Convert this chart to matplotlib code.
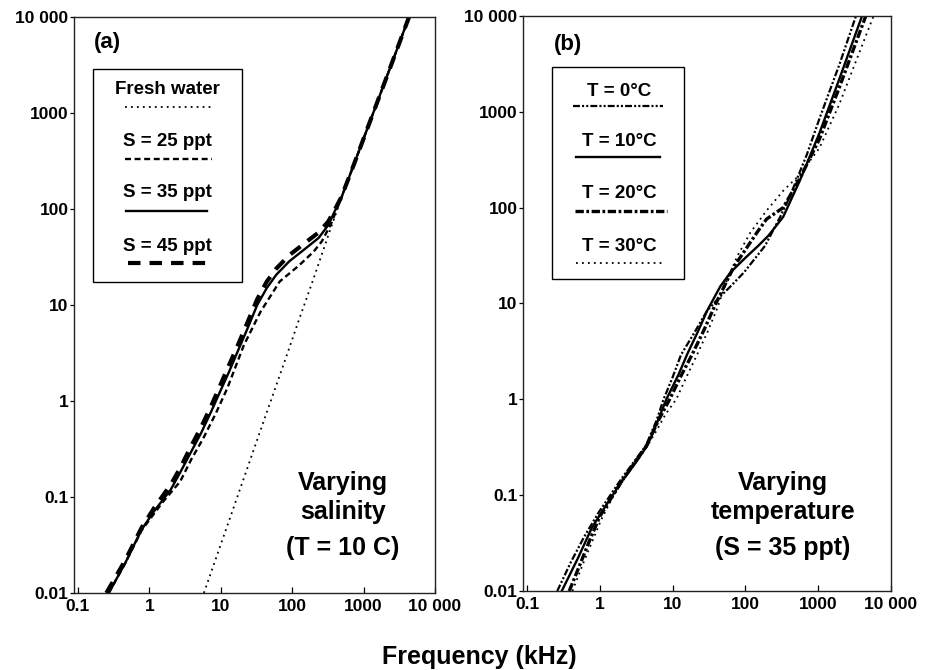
import matplotlib
matplotlib.use('Agg')
import matplotlib.pyplot as plt
from matplotlib.lines import Line2D
from matplotlib.patches import Rectangle

plt.rcParams['font.family'] = ['Liberation Sans', 'DejaVu Sans']
plt.rcParams['font.weight'] = 'bold'
plt.rcParams['lines.scale_dashes'] = False

# ---- panel (a): varying salinity, T = 10 C  (frequency kHz, absorption dB/km)
fresh_f = [5.8, 10, 20, 40, 80, 126, 200, 320, 490]
fresh_a = [0.01, 0.032, 0.141, 0.62, 2.7, 7.2, 19, 53, 132]

s25_f = [0.27, 0.46, 0.78, 1.18, 1.53, 2.7, 3.9, 5.6, 8.5, 12.3, 21, 36, 67, 126, 200, 260, 350, 490]
s25_a = [0.01, 0.0205, 0.045, 0.068, 0.088, 0.145, 0.25, 0.40, 0.74, 1.35, 3.8, 8.5, 17.6, 26, 36, 46, 70, 132]

s35_f = [0.27, 0.46, 0.78, 1.18, 2.0, 2.7, 3.7, 5.35, 7.3, 10, 13, 17.3, 23.7, 32.4, 44, 60, 91, 155, 235, 320, 400, 490]
s35_a = [0.01, 0.0206, 0.046, 0.072, 0.12, 0.18, 0.28, 0.47, 0.77, 1.3, 2.0, 3.3, 5.7, 10, 15, 20.7, 28.5, 39, 50, 68, 97, 132]

s45_f = [0.25, 0.46, 0.78, 1.18, 2.0, 2.7, 3.7, 5.35, 7.3, 10, 13, 17.3, 23.7, 32.4, 44, 60, 91, 155, 235, 320, 400, 490]
s45_a = [0.01, 0.022, 0.048, 0.078, 0.135, 0.2, 0.32, 0.54, 0.88, 1.5, 2.35, 3.8, 6.6, 11.5, 17.5, 24, 33, 45, 57, 74, 100, 134]

# shared high-frequency part (pure-water dominated)
hf_f = [700, 1000, 2000, 4330]
hf_a = [267, 541, 2140, 10000]

# ---- panel (b): varying temperature, S = 35 ppt
t0_f = [0.26, 0.4, 0.6, 0.95, 2.0, 4.3, 6.0, 7.5, 10, 13, 20, 30, 46, 62, 95, 186, 300, 406, 700, 1040, 1950, 3300]
t0_a = [0.01, 0.02, 0.036, 0.065, 0.15, 0.33, 0.6, 1.0, 1.7, 2.9, 5.0, 8.5, 12, 15, 21, 40, 80, 130, 360, 850, 3100, 10000]

t10_f = [0.3, 0.5, 0.78, 1.0, 2.0, 3.0, 4.5, 6.0, 8.2, 12, 16, 22, 30, 45, 62, 100, 150, 207, 330, 556, 1040, 1950, 4000]
t10_a = [0.01, 0.022, 0.046, 0.062, 0.14, 0.21, 0.33, 0.55, 1.0, 1.8, 3.0, 5.0, 8.5, 15, 21, 30, 40, 51, 80, 190, 600, 2200, 10000]

t20_f = [0.38, 0.55, 0.75, 1.0, 2.0, 4.3, 6.5, 9.1, 13, 18.8, 27, 38, 69, 144, 195, 330, 556, 1040, 1950, 4500]
t20_a = [0.01, 0.02, 0.036, 0.06, 0.14, 0.32, 0.62, 1.0, 1.75, 3.0, 5.3, 9.5, 24, 55, 76, 100, 200, 520, 1800, 10000]

t30_f = [0.42, 0.6, 0.8, 1.05, 1.5, 2.0, 3.0, 4.3, 6.0, 8.0, 11.2, 16, 22, 30, 40, 55, 77, 117, 195, 330, 556, 1040, 1950, 3000, 5760]
t30_a = [0.01, 0.02, 0.034, 0.056, 0.095, 0.135, 0.21, 0.31, 0.47, 0.7, 1.0, 1.8, 3.0, 5.0, 8.5, 17, 31, 55, 93, 150, 220, 420, 1200, 2800, 10000]

y_ticks = [0.01, 0.1, 1, 10, 100, 1000, 10000]
y_labels = ['0.01', '0.1', '1', '10', '100', '1000', '10 000']
x_ticks = [0.1, 1, 10, 100, 1000, 10000]
x_labels = ['0.1', '1', '10', '100', '1000', '10 000']

# line styles
st_fresh = dict(color='k', lw=1.3, ls=(0, (1.3, 3.0)))
st_s25 = dict(color='k', lw=1.7, ls=(0, (4.3, 2.6)))
st_s35 = dict(color='k', lw=1.7, ls='-')
st_s45 = dict(color='k', lw=3.0, ls=(0, (9, 6.5)))
st_t0 = dict(color='k', lw=1.6, ls=(0, (5, 1.5, 1.5, 1.5, 1.5, 1.5)))
st_t10 = dict(color='k', lw=1.7, ls='-')
st_t20 = dict(color='k', lw=2.4, ls=(0, (6, 1.8, 2, 1.8)))
st_t30 = dict(color='k', lw=1.3, ls=(0, (1.3, 3.0)))

fig = plt.figure(figsize=(9.38, 6.70), dpi=100)
ax_a = fig.add_axes([74 / 938, 1 - 593 / 670, 361 / 938, 576 / 670])
ax_b = fig.add_axes([523 / 938, 1 - 591 / 670, 368 / 938, 575 / 670])


def setup(ax):
    ax.set_xscale('log')
    ax.set_yscale('log')
    ax.set_xlim(0.088, 10000)
    ax.set_ylim(0.01, 10000)
    ax.set_xticks(x_ticks)
    ax.set_xticklabels(x_labels)
    ax.set_yticks(y_ticks)
    ax.set_yticklabels(y_labels)
    ax.minorticks_off()
    ax.tick_params(axis='x', direction='in', length=4.5, width=0.9, pad=4, labelsize=12.5)
    ax.tick_params(axis='y', direction='out', length=3, width=0.9, pad=1, labelsize=12.5)
    for lab in ax.get_xticklabels() + ax.get_yticklabels():
        lab.set_fontweight('bold')
    for sp in ax.spines.values():
        sp.set_linewidth(1.0)
        sp.set_color('#222222')


def legend_box(ax, box, items):
    x0, y0, x1, y1 = box
    ax.add_patch(Rectangle((x0, y0), x1 - x0, y1 - y0, transform=ax.transAxes,
                           fill=False, lw=1.0, ec='k', zorder=5))
    for label, tx, ty, lx0, lx1, ly, st in items:
        ax.text(tx, ty, label, transform=ax.transAxes, ha='center', va='center',
                fontsize=13.5, fontweight='bold')
        ax.add_artist(Line2D([lx0, lx1], [ly, ly], transform=ax.transAxes, **st))


# panel (a)
ax_a.plot(fresh_f + hf_f, fresh_a + hf_a, **st_fresh)
ax_a.plot(s25_f + hf_f, s25_a + hf_a, **st_s25)
ax_a.plot(s45_f + hf_f, s45_a + hf_a, **st_s45)
ax_a.plot(s35_f + hf_f, s35_a + hf_a, **st_s35)
setup(ax_a)
ax_a.text(0.0934, 0.9554, '(a)', transform=ax_a.transAxes, ha='center', va='center',
          fontsize=16, fontweight='bold')
legend_box(ax_a, (0.052, 0.5405, 0.4645, 0.9097), [
    ('Fresh water', 0.2596, 0.875, 0.1413, 0.3823, 0.8438, st_fresh),
    ('S = 25 ppt', 0.2596, 0.7835, 0.1413, 0.3823, 0.753, st_s25),
    ('S = 35 ppt', 0.2596, 0.695, 0.144, 0.368, 0.6632, st_s35),
    ('S = 45 ppt', 0.2596, 0.6012, 0.1496, 0.368, 0.5724, st_s45),
])
for txt, ty in [('Varying', 0.1915), ('salinity', 0.1406), ('(T = 10 C)', 0.0781)]:
    ax_a.text(0.745, ty, txt, transform=ax_a.transAxes, ha='center', va='center',
              fontsize=18, fontweight='bold')

# panel (b)
ax_b.plot(t30_f, t30_a, **st_t30)
ax_b.plot(t20_f, t20_a, **st_t20)
ax_b.plot(t0_f, t0_a, **st_t0)
ax_b.plot(t10_f, t10_a, **st_t10)
setup(ax_b)
ax_b.text(0.1215, 0.9496, '(b)', transform=ax_b.transAxes, ha='center', va='center',
          fontsize=16, fontweight='bold')
legend_box(ax_b, (0.078, 0.5426, 0.4375, 0.9118), [
    ('T = 0°C', 0.2609, 0.8683, 0.1359, 0.3804, 0.844, st_t0),
    ('T = 10°C', 0.2609, 0.7814, 0.144, 0.3723, 0.7543, st_t10),
    ('T = 20°C', 0.2609, 0.6917, 0.1413, 0.3913, 0.6614, st_t20),
    ('T = 30°C', 0.2609, 0.5988, 0.144, 0.3777, 0.5699, st_t30),
])
for txt, ty in [('Varying', 0.1883), ('temperature', 0.1374), ('(S = 35 ppt)', 0.0748)]:
    ax_b.text(0.7065, ty, txt, transform=ax_b.transAxes, ha='center', va='center',
              fontsize=18, fontweight='bold')

fig.text(479 / 938, 1 - 657 / 670, 'Frequency (kHz)', ha='center', va='center',
         fontsize=18, fontweight='bold')

fig.savefig('out.png', dpi=100)
